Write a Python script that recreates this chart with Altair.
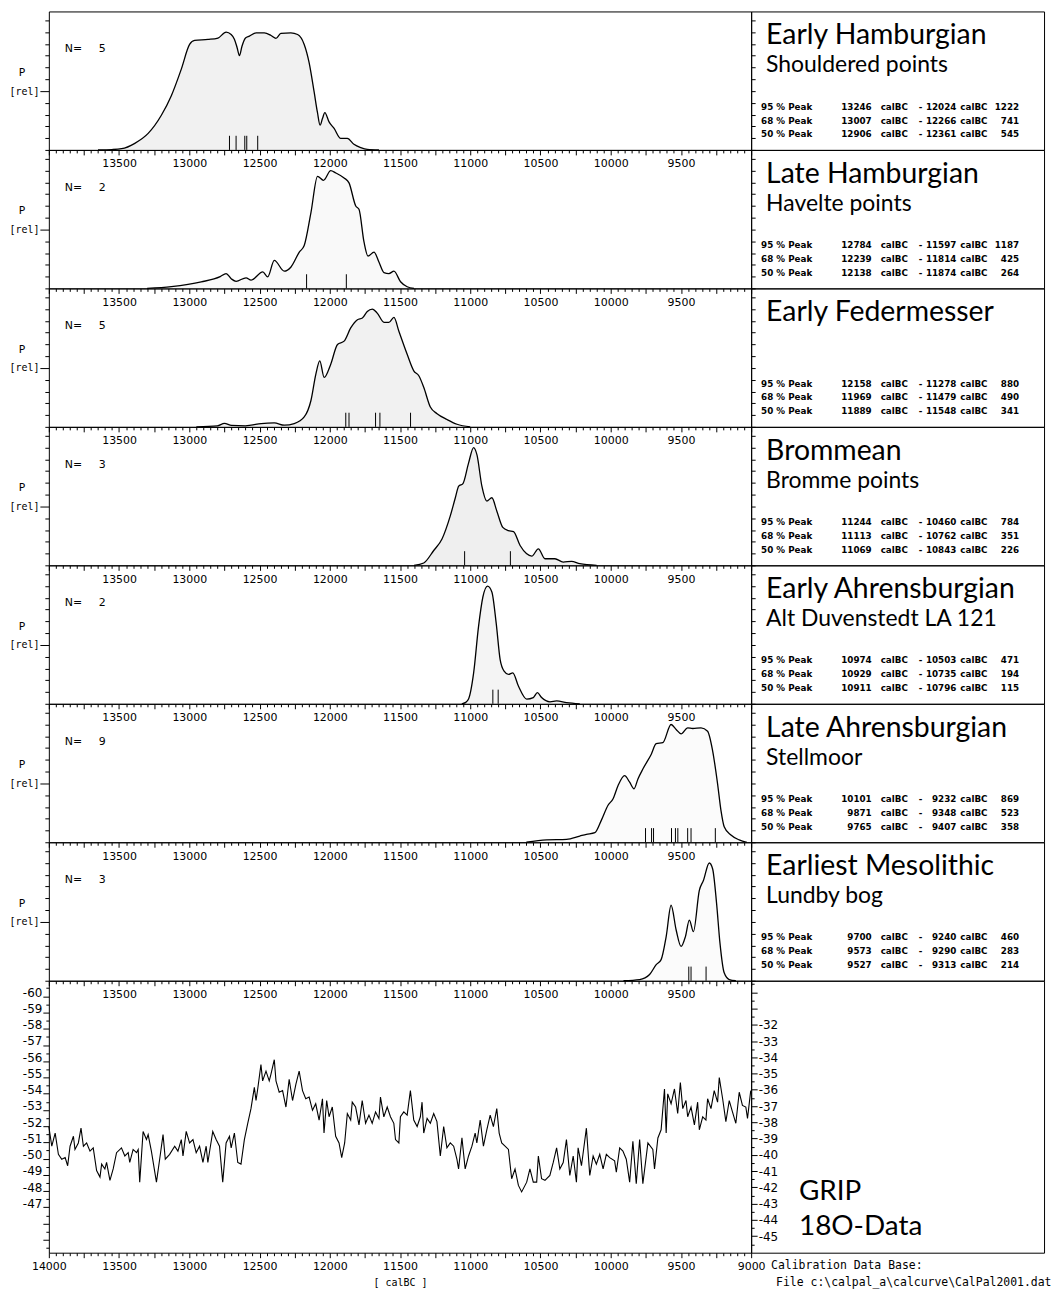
import altair as alt
import pandas as pd

# ---------------- density curves (calBC -> relative probability) ----------------
yrs1 = [13650, 13550, 13482, 13388, 13293, 13199, 13128, 13057, 12998, 12962, 12867, 12796, 12738, 12702,
        12679, 12660, 12643, 12625, 12600, 12572, 12525, 12466, 12418, 12383, 12348, 12277, 12229, 12182,
        12147, 12111, 12088, 12069, 12052, 12035, 12005, 11969, 11922, 11875, 11828, 11780, 11733, 11650]
p1 = [0, 0.003, 0.01, 0.056, 0.14, 0.294, 0.46, 0.686, 0.896, 0.93, 0.938, 0.95, 1.0, 0.98,
      0.94, 0.87, 0.80, 0.88, 0.95, 0.966, 0.994, 0.994, 0.972, 0.947, 0.989, 0.994, 0.98, 0.896,
      0.742, 0.49, 0.32, 0.21, 0.266, 0.317, 0.238, 0.182, 0.098, 0.098, 0.048, 0.02, 0.004, 0]

yrs2 = [13300, 13128, 12915, 12780, 12738, 12700, 12667, 12596, 12560, 12477, 12442, 12395, 12324, 12276,
        12217, 12182, 12134, 12087, 12045, 11993, 11957, 11898, 11863, 11815, 11792, 11756, 11728, 11685,
        11650, 11614, 11579, 11543, 11496, 11449, 11400]
p2 = [0, 0.015, 0.055, 0.1, 0.126, 0.08, 0.06, 0.09, 0.07, 0.14, 0.098, 0.238, 0.146, 0.182,
      0.308, 0.364, 0.644, 0.952, 0.918, 1.0, 0.98, 0.938, 0.896, 0.70, 0.672, 0.392, 0.274, 0.308,
      0.224, 0.134, 0.126, 0.146, 0.056, 0.014, 0]

yrs3 = [12950, 12800, 12750, 12700, 12600, 12560, 12489, 12395, 12324, 12253, 12182, 12134, 12099, 12071,
        12040, 11993, 11945, 11898, 11851, 11803, 11768, 11733, 11697, 11662, 11614, 11579, 11543, 11508,
        11449, 11402, 11366, 11331, 11284, 11236, 11165, 11094, 11000]
p3 = [0, 0.008, 0.03, 0.012, 0.008, 0.014, 0.028, 0.034, 0.014, 0.028, 0.084, 0.224, 0.448, 0.56,
      0.42, 0.532, 0.70, 0.728, 0.84, 0.91, 0.924, 0.98, 1.0, 0.966, 0.888, 0.888, 0.93, 0.812,
      0.616, 0.476, 0.434, 0.336, 0.168, 0.112, 0.062, 0.022, 0]

yrs4 = [11400, 11331, 11260, 11201, 11142, 11106, 11082, 11052, 11012, 10976, 10952, 10917, 10882, 10846,
        10811, 10768, 10728, 10692, 10645, 10600, 10562, 10515, 10468, 10397, 10338, 10279, 10220, 10100]
p4 = [0, 0.02, 0.126, 0.224, 0.42, 0.574, 0.672, 0.694, 0.868, 1.0, 0.938, 0.672, 0.546, 0.574,
      0.462, 0.322, 0.294, 0.286, 0.168, 0.1, 0.078, 0.14, 0.056, 0.056, 0.028, 0.034, 0.014, 0]

yrs5 = [11060, 11035, 11012, 10976, 10941, 10910, 10877, 10846, 10815, 10787, 10759, 10728, 10697, 10657,
        10598, 10551, 10522, 10492, 10432, 10385, 10314, 10220]
p5 = [0, 0.01, 0.04, 0.26, 0.655, 0.907, 1.0, 0.95, 0.683, 0.375, 0.277, 0.25, 0.263, 0.151,
      0.04, 0.053, 0.095, 0.053, 0.017, 0.025, 0.01, 0]

yrs6 = [10600, 10456, 10314, 10220, 10173, 10113, 10066, 10019, 9983, 9948, 9901, 9865, 9834, 9806,
        9771, 9711, 9676, 9629, 9570, 9534, 9499, 9452, 9416, 9357, 9310, 9274, 9239, 9215, 9192, 9144,
        9085, 9030]
p6 = [0, 0.02, 0.025, 0.053, 0.067, 0.081, 0.188, 0.314, 0.37, 0.48, 0.566, 0.51, 0.454, 0.538,
      0.622, 0.748, 0.837, 0.846, 1.0, 0.958, 0.921, 0.972, 0.966, 0.972, 0.943, 0.775, 0.496, 0.271,
      0.132, 0.061, 0.02, 0]

yrs7 = [9909, 9794, 9723, 9676, 9641, 9605, 9570, 9534, 9499, 9468, 9440, 9411, 9369, 9340, 9298, 9274,
        9246, 9222, 9192, 9156, 9109]
p7 = [0, 0.01, 0.053, 0.137, 0.179, 0.375, 0.641, 0.431, 0.291, 0.375, 0.515, 0.417, 0.767, 0.851,
      1.0, 0.949, 0.655, 0.319, 0.067, 0.01, 0]

# individual dated samples (tick marks)
samples1 = [12714, 12667, 12605, 12591, 12513]
samples2 = [12165, 11882]
samples3 = [11886, 11863, 11674, 11643, 11425]
samples4 = [11040, 10714]
samples5 = [10839, 10801]
samples6 = [9752, 9709, 9695, 9567, 9539, 9522, 9452, 9428, 9255]
samples7 = [9444, 9428, 9321]

n_dates = [5, 2, 5, 3, 2, 9, 3]

titles = ["Early Hamburgian", "Late Hamburgian", "Early Federmesser", "Brommean",
          "Early Ahrensburgian", "Late Ahrensburgian", "Earliest Mesolithic"]
subtitles = ["Shouldered points", "Havelte points", "", "Bromme points",
             "Alt Duvenstedt LA 121", "Stellmoor", "Lundby bog"]

levels = ["95 % Peak", "68 % Peak", "50 % Peak"]
stats_from = [[13246, 13007, 12906], [12784, 12239, 12138], [12158, 11969, 11889], [11244, 11113, 11069],
              [10974, 10929, 10911], [10101, 9871, 9765], [9700, 9573, 9527]]
stats_to = [[12024, 12266, 12361], [11597, 11814, 11874], [11278, 11479, 11548], [10460, 10762, 10843],
            [10503, 10735, 10796], [9232, 9348, 9407], [9240, 9290, 9313]]
stats_span = [[1222, 741, 545], [1187, 425, 264], [880, 490, 341], [784, 351, 226],
              [471, 194, 115], [869, 523, 358], [460, 283, 214]]

# ---------------- GRIP 18O ----------------
grip_years = [
    14000, 13979, 13955, 13932, 13908, 13884, 13866, 13849, 13825, 13814,
    13790, 13771, 13754, 13731, 13707, 13684, 13660, 13636, 13624, 13601,
    13589, 13565, 13542, 13518, 13483, 13459, 13435, 13424, 13400, 13376,
    13364, 13353, 13329, 13305, 13293, 13270, 13234, 13211, 13187, 13171,
    13140, 13104, 13081, 13057, 13045, 13022, 12998, 12974, 12951, 12927,
    12903, 12880, 12868, 12833, 12809, 12785, 12762, 12738, 12714, 12702,
    12679, 12655, 12632, 12608, 12584, 12561, 12537, 12525, 12513, 12490,
    12478, 12454, 12431, 12419, 12395, 12383, 12360, 12336, 12312, 12289,
    12265, 12241, 12218, 12194, 12171, 12147, 12123, 12100, 12076, 12052,
    12041, 12022, 12005, 11982, 11958, 11934, 11915, 11894, 11875, 11851,
    11840, 11816, 11792, 11769, 11745, 11721, 11698, 11674, 11650, 11639,
    11615, 11591, 11568, 11544, 11532, 11508, 11497, 11473, 11449, 11426,
    11402, 11378, 11355, 11343, 11331, 11307, 11284, 11260, 11237, 11213,
    11189, 11166, 11142, 11118, 11095, 11083, 11059, 11036, 11012, 10988,
    10965, 10953, 10929, 10906, 10882, 10858, 10835, 10811, 10794, 10776,
    10752, 10728, 10705, 10681, 10657, 10634, 10598, 10575, 10551, 10527,
    10515, 10492, 10468, 10433, 10409, 10385, 10362, 10338, 10315, 10291,
    10267, 10244, 10232, 10208, 10173, 10149, 10125, 10102, 10078, 10054,
    10031, 10007, 9972, 9960, 9936, 9913, 9889, 9865, 9842, 9818,
    9794, 9771, 9735, 9700, 9688, 9664, 9641, 9617, 9605, 9594,
    9570, 9546, 9523, 9504, 9487, 9464, 9452, 9428, 9404, 9381,
    9369, 9345, 9322, 9310, 9286, 9263, 9239, 9227, 9203, 9180,
    9156, 9133, 9109, 9085, 9062, 9038, 9026, 9003]
grip_d18o = [
    -38.26, -39.47, -38.66, -39.97, -40.27, -40.17, -40.67, -39.47, -38.86, -39.67,
    -39.27, -38.36, -39.47, -39.27, -39.77, -39.57, -40.97, -41.37, -40.57, -40.87,
    -40.47, -41.57, -40.87, -39.87, -39.57, -40.07, -39.87, -40.47, -39.67, -39.87,
    -39.67, -41.68, -38.56, -39.06, -38.76, -39.77, -41.68, -40.27, -38.76, -40.27,
    -39.97, -39.47, -39.77, -39.06, -40.07, -38.56, -39.27, -39.06, -39.87, -39.47,
    -40.47, -39.47, -40.47, -38.56, -39.06, -39.47, -41.68, -39.27, -38.86, -39.57,
    -38.66, -40.47, -40.57, -39.06, -38.06, -37.16, -35.85, -36.66, -35.95, -34.45,
    -35.45, -34.85, -35.45, -35.05, -34.15, -35.45, -36.15, -36.05, -37.06, -35.35,
    -36.66, -35.65, -34.85, -36.05, -36.55, -36.45, -37.26, -36.86, -37.86, -36.55,
    -38.66, -36.66, -37.66, -37.06, -38.86, -39.27, -40.17, -39.27, -37.46, -37.86,
    -36.76, -37.06, -38.16, -36.66, -38.06, -37.56, -38.06, -37.36, -37.76, -36.45,
    -37.66, -37.06, -37.66, -38.06, -39.06, -39.27, -37.66, -37.36, -37.56, -36.05,
    -37.86, -38.26, -37.66, -36.76, -38.66, -37.76, -38.06, -37.46, -37.96, -40.07,
    -38.26, -39.57, -39.27, -39.47, -40.27, -40.87, -38.96, -40.87, -40.07, -39.47,
    -38.66, -39.27, -37.86, -39.47, -38.46, -37.56, -38.26, -37.16, -38.66, -39.27,
    -39.47, -39.67, -41.47, -40.87, -41.88, -42.28, -41.68, -40.87, -41.68, -41.68,
    -40.07, -41.47, -41.57, -41.27, -40.47, -39.57, -40.87, -40.47, -39.06, -41.27,
    -40.07, -41.68, -39.57, -40.67, -38.36, -41.27, -40.07, -40.57, -39.97, -40.87,
    -39.97, -40.17, -40.37, -41.07, -39.57, -39.77, -40.27, -41.68, -39.16, -41.78,
    -39.06, -41.78, -39.27, -39.67, -40.87, -38.96, -38.46, -35.95, -38.66, -36.25,
    -36.86, -35.95, -37.46, -35.55, -37.16, -36.66, -37.66, -37.06, -38.16, -36.76,
    -38.46, -37.66, -37.86, -36.55, -37.16, -36.05, -36.76, -35.25, -36.55, -37.96,
    -36.66, -37.36, -38.06, -36.15, -36.96, -37.06, -37.76, -36.05]

grip_left_labels = [-60, -59, -58, -57, -56, -55, -54, -53, -52, -51, -50, -49, -48, -47]
grip_right_labels = [-32, -33, -34, -35, -36, -37, -38, -39, -40, -41, -42, -43, -44, -45]

YRS = [yrs1, yrs2, yrs3, yrs4, yrs5, yrs6, yrs7]
PS = [p1, p2, p3, p4, p5, p6, p7]
SAMPLES = [samples1, samples2, samples3, samples4, samples5, samples6, samples7]
FILLS = ["#ebebeb", "#f6f6f6", "#ebebeb", "#e8e8e8", "#f0f0f0", "#fafafa", "#fafafa"]

# ---------------- layout constants ----------------
W_PLOT, W_TEXT, H_ROW, H_GRIP = 705, 294, 139, 273
P_MAX = 1.176

xs = alt.Scale(domain=[9000, 14000], reverse=True, nice=False, zero=False)
ys = alt.Scale(domain=[0, P_MAX], nice=False, zero=False)
x_tick_values = list(range(9000, 14001, 50))
p_tick_values = [0, 0.1, 0.2, 0.3, 0.4, 0.5, 0.6, 0.7, 0.8, 0.9, 1.0, 1.1]


def x_axis(all_labels, title=None):
    if all_labels:
        cond = "datum.value % 500 == 0"
    else:
        cond = "datum.value % 500 == 0 && datum.value > 9000 && datum.value < 14000"
    kw = dict(values=x_tick_values, format="d", labelExpr=cond + " ? datum.label : ''",
              tickSize={"condition": {"test": "datum.value % 250 == 0", "value": 5}, "value": 3},
              labelPadding=3, labelFont="DejaVu Sans", labelFontSize=11, labelOverlap=False,
              labelFlush=False, domain=False, grid=False)
    if title:
        kw.update(title=title, titleFont="DejaVu Sans Mono", titleFontSize=10,
                  titleFontWeight="normal", titlePadding=6)
    else:
        kw.update(title=None)
    return alt.Axis(**kw)


def one_text(txt, x, y, **mk):
    return alt.Chart(pd.DataFrame({"t": [txt]})).mark_text(**mk).encode(
        text="t:N", x=alt.value(x), y=alt.value(y))


def density_row(i):
    df = pd.DataFrame({"year": YRS[i], "p": PS[i]})
    area = alt.Chart(df).mark_area(
        color=FILLS[i], interpolate="monotone",
        line={"color": "black", "strokeWidth": 1.3}).encode(
        x=alt.X("year:Q", scale=xs, axis=x_axis(False)),
        y=alt.Y("p:Q", scale=ys, axis=alt.Axis(
            orient="left", values=p_tick_values,
            tickSize={"condition": {"test": "datum.value == 0.5", "value": 9}, "value": 4},
            labelExpr="datum.value == 0.5 ? '[rel]' : ''", labelFont="DejaVu Sans Mono",
            labelFontSize=10, labelPadding=1, labelOverlap=False, domain=False, grid=False,
            title=None)),
    )
    rules = alt.Chart(pd.DataFrame({"year": SAMPLES[i]})).mark_rule(
        color="black", strokeWidth=1).encode(
        x=alt.X("year:Q", scale=xs, axis=x_axis(False)),
        y=alt.YDatum(0, type="quantitative", scale=ys, axis=alt.Axis(
            orient="right", values=p_tick_values, tickSize=4, labels=False,
            domain=False, grid=False, title=None)),
        y2=alt.datum(0.12),
    )
    ptxt = one_text("P", -27, 61.5, font="DejaVu Sans Mono", fontSize=11)
    ntxt = one_text("N=", 16, 38, font="DejaVu Sans", fontSize=11, align="left")
    nval = one_text(str(n_dates[i]), 50, 38, font="DejaVu Sans", fontSize=11, align="left")
    return alt.layer(area, rules, ptxt, ntxt, nval).resolve_axis(y="independent").properties(
        width=W_PLOT, height=H_ROW)


def text_panel(i):
    layers = [one_text(titles[i], 15, 10, font="Lato", fontSize=28.5, align="left",
                       baseline="top")]
    if subtitles[i]:
        layers.append(one_text(subtitles[i], 15, 61, font="Lato", fontSize=23, align="left",
                               baseline="alphabetic"))
    sdf = pd.DataFrame({"lvl": levels, "a": stats_from[i], "b": stats_to[i], "s": stats_span[i]})
    yrow = alt.Y("lvl:N", axis=None, sort=levels,
                 scale=alt.Scale(type="point", range=[95.5, 123.5], padding=0))
    st = dict(font="DejaVu Sans", fontSize=8.8, fontWeight="bold", baseline="middle")
    base = alt.Chart(sdf)
    layers += [
        base.mark_text(align="left", **st).encode(text="lvl:N", x=alt.value(10), y=yrow),
        base.mark_text(align="right", **st).encode(text=alt.Text("a:Q", format="d"),
                                                   x=alt.value(121), y=yrow),
        base.mark_text(align="left", text="calBC", **st).encode(x=alt.value(130), y=yrow),
        base.mark_text(align="center", text="-", **st).encode(x=alt.value(170), y=yrow),
        base.mark_text(align="right", **st).encode(text=alt.Text("b:Q", format="d"),
                                                   x=alt.value(206), y=yrow),
        base.mark_text(align="left", text="calBC", **st).encode(x=alt.value(210), y=yrow),
        base.mark_text(align="right", **st).encode(text=alt.Text("s:Q", format="d"),
                                                   x=alt.value(269), y=yrow),
    ]
    return alt.layer(*layers).properties(width=W_TEXT, height=H_ROW)


# ---------------- GRIP row ----------------
gdf = pd.DataFrame({"year": grip_years, "d18o": grip_d18o})
left_scale = alt.Scale(domain=[-60.96, -44.2], reverse=True, nice=False, zero=False)
right_scale = alt.Scale(domain=[-46.02, -29.29], nice=False, zero=False)
left_vals = [v / 2 for v in range(-121, -88)]
right_vals = [v / 2 for v in range(-91, -58)]

lo, hi = min(grip_left_labels), max(grip_left_labels)
left_grip_axis = alt.Axis(
    orient="left", values=left_vals,
    tickSize={"condition": {"test": "datum.value % 1 == 0", "value": 6}, "value": 3},
    labelExpr=f"datum.value % 1 == 0 && datum.value >= {lo} && datum.value <= {hi} ? '-' + abs(datum.value) : ''",
    labelFont="DejaVu Sans", labelFontSize=12, labelPadding=1, labelBaseline="alphabetic",
    labelOverlap=False, domain=False, grid=False, title=None)
lo2, hi2 = min(grip_right_labels), max(grip_right_labels)
right_grip_axis = alt.Axis(
    orient="right", values=right_vals,
    tickSize={"condition": {"test": "datum.value % 1 == 0", "value": 6}, "value": 3},
    labelExpr=f"datum.value % 1 == 0 && datum.value >= {lo2} && datum.value <= {hi2} ? '-' + abs(datum.value) : ''",
    labelFont="DejaVu Sans", labelFontSize=12, labelPadding=1,
    labelOverlap=False, domain=False, grid=False, title=None)

dummy_left = alt.Chart(pd.DataFrame({"v": grip_left_labels})).mark_point(opacity=0).encode(
    y=alt.Y("v:Q", scale=left_scale, axis=left_grip_axis))
grip_line = alt.Chart(gdf).mark_line(color="black", strokeWidth=1.1).encode(
    x=alt.X("year:Q", scale=xs, axis=x_axis(True, "[ calBC ]")),
    y=alt.Y("d18o:Q", scale=right_scale, axis=right_grip_axis))
grip = alt.layer(dummy_left, grip_line).resolve_scale(y="independent").properties(
    width=W_PLOT, height=H_GRIP)

grip_text = alt.layer(
    one_text("GRIP", 48, 220, font="Lato", fontSize=28, align="left", baseline="alphabetic"),
    one_text("18O-Data", 48, 255.5, font="Lato", fontSize=28, align="left", baseline="alphabetic"),
    one_text("Calibration Data Base:", 20, H_GRIP + 16, font="DejaVu Sans Mono", fontSize=11.5,
             align="left", baseline="alphabetic"),
    one_text(r"File c:\calpal_a\calcurve\CalPal2001.dat", 25, H_GRIP + 33, font="DejaVu Sans Mono",
             fontSize=11.5, align="left", baseline="alphabetic"),
).properties(width=W_TEXT, height=H_GRIP)

cells = []
for i in range(7):
    cells += [density_row(i), text_panel(i)]
cells += [grip, grip_text]

chart = alt.concat(*cells, columns=2, spacing=0, bounds="flush", align="each").properties(
    padding=0, background="white"
).configure_view(stroke="black", strokeWidth=1).configure_axis(
    tickColor="black", labelColor="black", tickWidth=1)

chart.save("out.html", embed_options={"renderer": "svg", "actions": False})
